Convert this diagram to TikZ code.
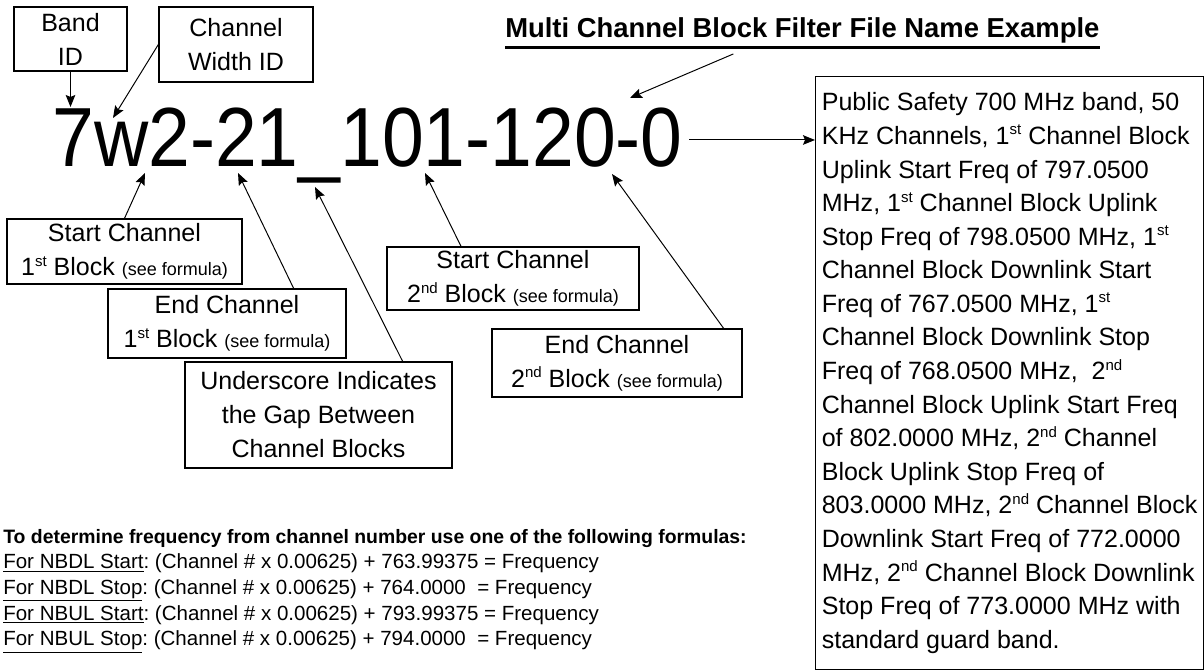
\documentclass[tikz,border=0pt]{standalone}
\usepackage{fontspec}
\setmainfont{Liberation Sans}
\newfontfamily\codefont[FakeStretch=0.895]{Liberation Sans}
\usetikzlibrary{arrows.meta}
\frenchspacing

\tikzset{
  idbox/.style={draw, line width=0.9pt, align=center, inner sep=0pt, font=\fontsize{17.8}{24.2}\selectfont},
  arr/.style={-{Stealth[length=0.3cm,width=0.24cm,inset=0.05cm]}, line width=0.7pt},
}
\newcommand{\seeform}{{\fontsize{12.8}{15}\selectfont(see formula)}}
\newcommand{\sups}[1]{\raisebox{0.38em}{\fontsize{10.7}{11}\selectfont #1}}

\begin{document}
\begin{tikzpicture}
\useasboundingbox (0,0) rectangle (30.1,16.775);

\node[idbox, minimum width=2.825cm, minimum height=1.6cm] (band) at (1.7625,15.8) {Band\\ID};
\node[idbox, minimum width=3.85cm, minimum height=1.875cm] (width) at (5.9,15.6625) {Channel\\Width ID};

\node[anchor=base west, inner sep=0pt, font=\fontsize{19.5}{22}\selectfont\bfseries] (title) at (12.625,15.825) {Multi Channel Block Filter File Name Example};
\draw[line width=1.8pt] ([yshift=-0.24cm]title.base west) -- ([yshift=-0.24cm]title.base east);

\node[anchor=base west, inner sep=0pt, font=\codefont\fontsize{59.7}{60}\selectfont] (code) at (1.3,12.6) {7w2-21\_101-120-0};

\node[idbox, anchor=north west, align=left, minimum width=9.7cm, minimum height=14.825cm, font=\fontsize{17.8}{23.9}\selectfont] (info) at (20.375,14.875) {Public Safety 700 MHz band, 50\\
KHz Channels, 1\sups{st} Channel Block\\
Uplink Start Freq of 797.0500\\
MHz, 1\sups{st} Channel Block Uplink\\
Stop Freq of 798.0500 MHz, 1\sups{st}\\
Channel Block Downlink Start\\
Freq of 767.0500 MHz, 1\sups{st}\\
Channel Block Downlink Stop\\
Freq of 768.0500 MHz, ~2\sups{nd}\\
Channel Block Uplink Start Freq\\
of 802.0000 MHz, 2\sups{nd} Channel\\
Block Uplink Stop Freq of\\
803.0000 MHz, 2\sups{nd} Channel Block\\
Downlink Start Freq of 772.0000\\
MHz, 2\sups{nd} Channel Block Downlink\\
Stop Freq of 773.0000 MHz with\\
standard guard band.};

\node[idbox, minimum width=5.875cm, minimum height=1.625cm] (start1) at (3.1125,10.4875) {Start Channel\\1\sups{st} Block \seeform};
\node[idbox, minimum width=5.95cm, minimum height=1.725cm] (end1) at (5.675,8.6875) {End Channel\\1\sups{st} Block \seeform};
\node[idbox, minimum width=6.675cm, minimum height=2.65cm] (gap) at (7.9625,6.4) {Underscore Indicates\\the Gap Between\\Channel Blocks};
\node[idbox, minimum width=6.3cm, minimum height=1.575cm] (start2) at (12.825,9.8125) {Start Channel\\2\sups{nd} Block \seeform};
\node[idbox, minimum width=6.25cm, minimum height=1.7cm] (end2) at (15.425,7.7) {End Channel\\2\sups{nd} Block \seeform};

\node[anchor=north west, align=left, inner sep=0pt, font=\fontsize{14.6}{18.2}\selectfont] (formulas) at (0.075,3.55) {{\fontsize{13.8}{18.2}\selectfont\bfseries To determine frequency from channel number use one of the following formulas:}\\
\underline{For NBDL Start}: (Channel \# x 0.00625) + 763.99375 = Frequency\\
\underline{For NBDL Stop}: (Channel \# x 0.00625) + 764.0000~ = Frequency\\
\underline{For NBUL Start}: (Channel \# x 0.00625) + 793.99375 = Frequency\\
\underline{For NBUL Stop}: (Channel \# x 0.00625) + 794.0000~ = Frequency};

\coordinate (t7) at (1.7625,14.1);
\coordinate (tw) at (2.825,13.825);
\coordinate (tx) at (15.75,14.325);
\coordinate (ts1) at (3.625,12.45);
\coordinate (te1) at (5.95,12.45);
\coordinate (tg) at (7.875,12.1);
\coordinate (ts2) at (10.625,12.45);
\coordinate (te2) at (15.3,12.425);
\coordinate (c0) at ([xshift=0.15cm,yshift=0.675cm]code.base east);

\draw[arr] (band) -- (t7);
\draw[arr] (width.west) -- (tw);
\draw[arr] ([xshift=-1.725cm,yshift=-0.25cm]title.south) -- (tx);
\draw[arr] (start1.north) -- (ts1);
\draw[arr] ([xshift=-1.325cm]end1.north east) -- (te1);
\draw[arr] ([xshift=-1.25cm]gap.north east) -- (tg);
\draw[arr] ([xshift=-1.3cm]start2.north) -- (ts2);
\draw[arr] ([xshift=-0.475cm]end2.north east) -- (te2);
\draw[arr] (c0) -- (c0 -| info.west);
\end{tikzpicture}
\end{document}
